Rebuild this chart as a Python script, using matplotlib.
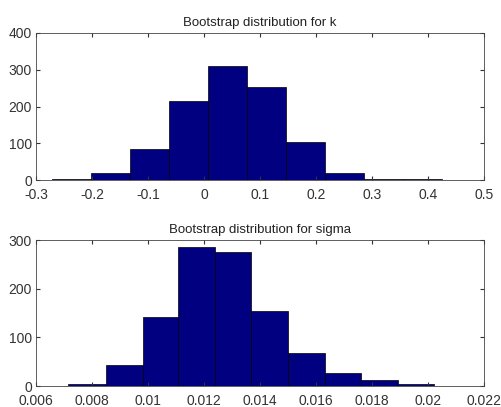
import matplotlib
matplotlib.use("Agg")
import matplotlib.pyplot as plt
import numpy as np

# bootstrap histogram for k (10 bins)
k_edges = [-0.271, -0.2015, -0.132, -0.062, 0.007, 0.0768, 0.146, 0.2155, 0.285, 0.355, 0.4245]
k_counts = [3, 19, 85, 216, 310, 252, 104, 19, 3, 2]

# bootstrap histogram for sigma (10 bins)
s_edges = [0.007155, 0.008488, 0.009821, 0.011083, 0.012393, 0.013690,
           0.015012, 0.016310, 0.017607, 0.018917, 0.020214]
s_counts = [5, 43, 142, 286, 275, 154, 67, 27, 12, 4]

k_xticks = [-0.3, -0.2, -0.1, 0, 0.1, 0.2, 0.3, 0.4, 0.5]
k_yticks = [0, 100, 200, 300, 400]
s_xticks = [0.006, 0.008, 0.01, 0.012, 0.014, 0.016, 0.018, 0.02, 0.022]
s_yticks = [0, 100, 200, 300]

plt.rcParams['font.family'] = ['Liberation Sans', 'DejaVu Sans']

fig = plt.figure(figsize=(5.01, 4.07), dpi=100)
ax1 = fig.add_axes([36/501, 1 - 180/407, 448/501, 147/407])
ax2 = fig.add_axes([36/501, 1 - 386/407, 448/501, 146/407])


def draw_hist(ax, edges, counts, xticks, yticks, title):
    edges = np.asarray(edges)
    ax.bar(edges[:-1], counts, width=np.diff(edges), align='edge',
           color='#000080', edgecolor='black', linewidth=0.5)
    ax.set_xlim(xticks[0], xticks[-1])
    ax.set_ylim(yticks[0], yticks[-1])
    ax.set_xticks(xticks)
    ax.set_yticks(yticks)
    ax.set_xticklabels(['%g' % t for t in xticks])
    ax.set_yticklabels(['%g' % t for t in yticks])
    ax.tick_params(direction='in', top=True, right=True, length=3,
                   labelsize=10, colors='#333333')
    ax.tick_params(axis='x', pad=6)
    ax.tick_params(axis='y', pad=3)
    # lift the bottom y label a touch so it clears the first x label
    for lab in ax.get_yticklabels():
        lab.set_verticalalignment('center_baseline')
    for s in ax.spines.values():
        s.set_linewidth(0.6)
        s.set_color('#444444')
    ax.set_title(title, fontsize=9.5, pad=5, color='#222222')


draw_hist(ax1, k_edges, k_counts, k_xticks, k_yticks, 'Bootstrap distribution for k')
draw_hist(ax2, s_edges, s_counts, s_xticks, s_yticks, 'Bootstrap distribution for sigma')

fig.savefig('out.png', dpi=100)
